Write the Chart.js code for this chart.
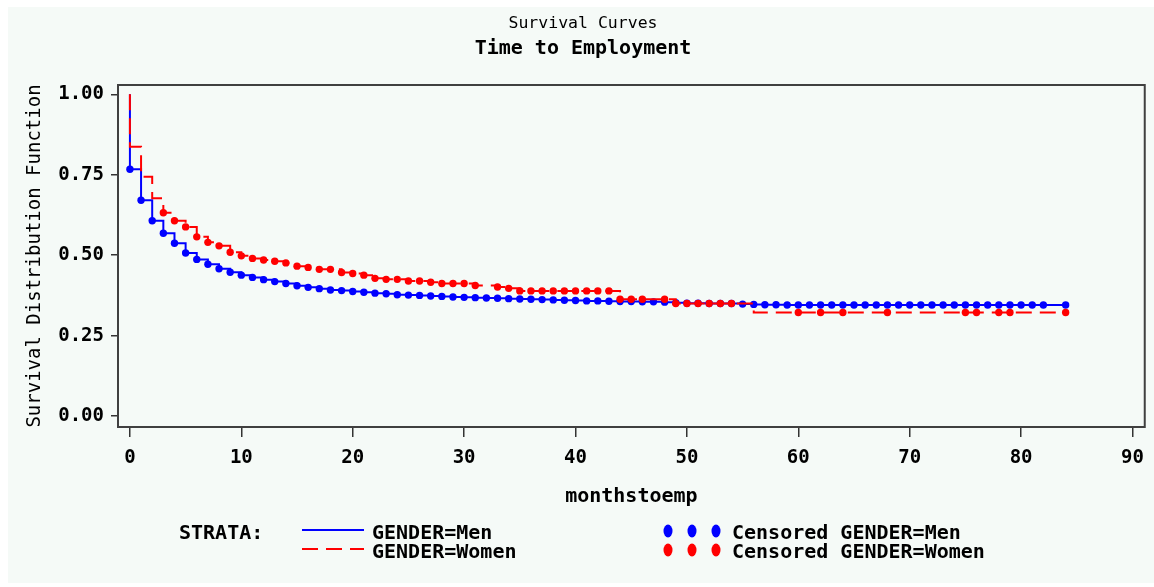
<!DOCTYPE html>
<html>
<head>
<meta charset="utf-8">
<script src="https://cdn.jsdelivr.net/npm/chart.js@4.4.1/dist/chart.umd.min.js"></script>
<style>
html,body{margin:0;padding:0;background:#ffffff;}
#wrap{position:absolute;left:0;top:0;width:1154px;height:587px;}
</style>
</head>
<body>
<div id="wrap"><canvas id="c" width="1154" height="587"></canvas></div>
<script>
// ---- data ----
const months = [0,1,2,3,4,5,6,7,8,9,10,11,12,13,14,15,16,17,18,19,20,21,22,23,24,25,26,27,28,29,30,31,32,33,34,35,36,37,38,39,40,41,42,43,44,45,46,47,48,49,50,51,52,53,54,55,56,57,58,59,60,61,62,63,64,65,66,67,68,69,70,71,72,73,74,75,76,77,78,79,80,81,82,83,84];
const startSurvival = 1.0;
const menSurvival = [0.767,0.671,0.607,0.568,0.537,0.507,0.487,0.472,0.458,0.447,0.438,0.431,0.424,0.418,0.412,0.405,0.400,0.396,0.392,0.390,0.387,0.385,0.382,0.380,0.377,0.376,0.375,0.373,0.372,0.370,0.369,0.368,0.367,0.366,0.365,0.364,0.363,0.362,0.361,0.360,0.359,0.358,0.358,0.357,0.356,0.356,0.355,0.355,0.354,0.352,0.351,0.351,0.350,0.350,0.350,0.348,0.347,0.346,0.346,0.345,0.345,0.345,0.345,0.345,0.345,0.345,0.345,0.345,0.345,0.345,0.345,0.345,0.345,0.345,0.345,0.345,0.345,0.345,0.345,0.345,0.345,0.345,0.345,0.345,0.345];
const womenSurvival = [0.837,0.744,0.677,0.632,0.607,0.588,0.557,0.540,0.529,0.509,0.498,0.490,0.485,0.481,0.476,0.466,0.462,0.456,0.456,0.446,0.443,0.438,0.428,0.425,0.425,0.420,0.420,0.416,0.412,0.412,0.412,0.406,0.406,0.401,0.397,0.389,0.389,0.389,0.389,0.389,0.389,0.389,0.389,0.389,0.363,0.363,0.363,0.363,0.363,0.350,0.350,0.350,0.350,0.350,0.350,0.350,0.322,0.322,0.322,0.322,0.322,0.322,0.322,0.322,0.322,0.322,0.322,0.322,0.322,0.322,0.322,0.322,0.322,0.322,0.322,0.322,0.322,0.322,0.322,0.322,0.322,0.322,0.322,0.322,0.322];
const menCensored = [0,1,2,3,4,5,6,7,8,9,10,11,12,13,14,15,16,17,18,19,20,21,22,23,24,25,26,27,28,29,30,31,32,33,34,35,36,37,38,39,40,41,42,43,44,45,46,47,48,49,50,51,52,53,54,55,56,57,58,59,60,61,62,63,64,65,66,67,68,69,70,71,72,73,74,75,76,77,78,79,80,81,82,84];
const womenCensored = [3,4,5,6,7,8,9,10,11,12,13,14,15,16,17,18,19,20,21,22,23,24,25,26,27,28,29,30,31,33,34,35,36,37,38,39,40,41,42,43,44,45,46,48,49,50,51,52,53,54,60,62,64,68,75,76,78,79,84];
const xTickValues = [0,10,20,30,40,50,60,70,80,90];
const yTickValues = [0,0.25,0.5,0.75,1.0];
const titleText = 'Survival Curves';
const subtitleText = 'Time to Employment';
const xTitle = 'monthstoemp';
const yTitle = 'Survival Distribution Function';
const legendStrata = 'STRATA:';
const seriesNames = ['GENDER=Men','GENDER=Women'];
const censorNames = ['Censored GENDER=Men','Censored GENDER=Women'];

const BLUE = '#0000ff', RED = '#ff0000';
const MONO = "'DejaVu Sans Mono', 'Liberation Mono', monospace";

function stepData(surv){
  return [{x: months[0], y: startSurvival}].concat(months.map((m,i)=>({x:m, y:surv[i]})));
}
function censorData(list, surv){
  return list.map(m => ({x:m, y:surv[months.indexOf(m)]}));
}

const bgPlugin = {
  id:'bg',
  beforeDraw(chart){
    const c = chart.ctx;
    c.save();
    c.fillStyle = '#ffffff';
    c.fillRect(0,0,chart.width,chart.height);
    c.fillStyle = '#f5faf7';
    c.fillRect(8,7,chart.width-8,576);
    c.restore();
  }
};
const framePlugin = {
  id:'frame',
  afterDatasetsDraw(chart){
    const a = chart.chartArea, c = chart.ctx;
    c.save();
    c.strokeStyle = '#404040';
    c.lineWidth = 2;
    c.strokeRect(a.left, a.top, a.right-a.left, a.bottom-a.top);
    c.restore();
  }
};
const legendPlugin = {
  id:'customLegend',
  afterDraw(chart){
    const c = chart.ctx;
    c.save();
    c.font = "bold 20px " + MONO;
    c.fillStyle = '#000';
    c.textBaseline = 'middle';
    c.textAlign = 'left';
    c.fillText(legendStrata, 179, 534);
    c.fillText(seriesNames[0], 372, 534);
    c.fillText(seriesNames[1], 372, 553);
    c.fillText(censorNames[0], 732, 534);
    c.fillText(censorNames[1], 732, 553);
    // line samples
    c.lineWidth = 2;
    c.strokeStyle = BLUE;
    c.beginPath(); c.moveTo(302,530); c.lineTo(364,530); c.stroke();
    c.strokeStyle = RED;
    c.setLineDash([16,8]);
    c.beginPath(); c.moveTo(302,549); c.lineTo(364,549); c.stroke();
    c.setLineDash([]);
    // marker samples
    [668,692,716].forEach(x=>{
      c.fillStyle = BLUE;
      c.beginPath(); c.ellipse(x,531,4.5,6.5,0,0,Math.PI*2); c.fill();
      c.fillStyle = RED;
      c.beginPath(); c.ellipse(x,550,4.5,6.5,0,0,Math.PI*2); c.fill();
    });
    c.restore();
  }
};

new Chart(document.getElementById('c'), {
  type:'line',
  data:{
    datasets:[
      {label:seriesNames[1], data:stepData(womenSurvival), stepped:'before', borderColor:RED, borderWidth:2, borderDash:[16,8], pointRadius:0, fill:false, order:1},
      {label:censorNames[1], data:censorData(womenCensored, womenSurvival), showLine:false, pointStyle:'circle', pointRadius:3.7, pointBackgroundColor:RED, pointBorderColor:RED, pointBorderWidth:0, order:1},
      {label:seriesNames[0], data:stepData(menSurvival), stepped:'before', borderColor:BLUE, borderWidth:2, pointRadius:0, fill:false, order:2},
      {label:censorNames[0], data:censorData(menCensored, menSurvival), showLine:false, pointStyle:'circle', pointRadius:3.7, pointBackgroundColor:BLUE, pointBorderColor:BLUE, pointBorderWidth:0, order:2}
    ]
  },
  options:{
    responsive:false,
    animation:false,
    events:[],
    layout:{padding:{left:18,right:6,top:0,bottom:0}},
    plugins:{
      legend:{display:false},
      tooltip:{enabled:false},
      title:{display:true, text:titleText, color:'#000', font:{family:MONO, size:16.5, weight:'normal', lineHeight:1.2}, padding:{top:14,bottom:3}},
      subtitle:{display:true, text:subtitleText, color:'#000', font:{family:MONO, size:20, weight:'bold', lineHeight:1.2}, padding:{top:0,bottom:24.2}}
    },
    scales:{
      x:{
        type:'linear', min:-1.07, max:91.1,
        afterBuildTicks(s){ s.ticks = xTickValues.map(v=>({value:v})); },
        afterFit(s){ s.height = 160; },
        grid:{drawOnChartArea:false, drawTicks:true, tickLength:10, color:'#333', lineWidth:1.5},
        border:{display:false},
        ticks:{color:'#000', font:{family:MONO, size:19, weight:'bold'}, padding:10, maxRotation:0, autoSkip:false},
        title:{display:true, text:xTitle, color:'#000', font:{family:MONO, size:20, weight:'bold', lineHeight:1.2}, padding:{top:0,bottom:78}}
      },
      y:{
        type:'linear', min:-0.034, max:1.029,
        afterBuildTicks(s){ s.ticks = yTickValues.map(v=>({value:v})); },
        afterFit(s){ s.width = 100; },
        grid:{drawOnChartArea:false, drawTicks:true, tickLength:7, color:'#333', lineWidth:1.5},
        border:{display:false},
        ticks:{color:'#000', font:{family:MONO, size:19, weight:'bold'}, padding:7, callback:v=>Number(v).toFixed(2)},
        title:{display:true, text:yTitle, color:'#000', font:{family:MONO, size:19, weight:'normal', lineHeight:1.2}, padding:{top:5.6,bottom:0}}
      }
    }
  },
  plugins:[bgPlugin, framePlugin, legendPlugin]
});
</script>
</body>
</html>
